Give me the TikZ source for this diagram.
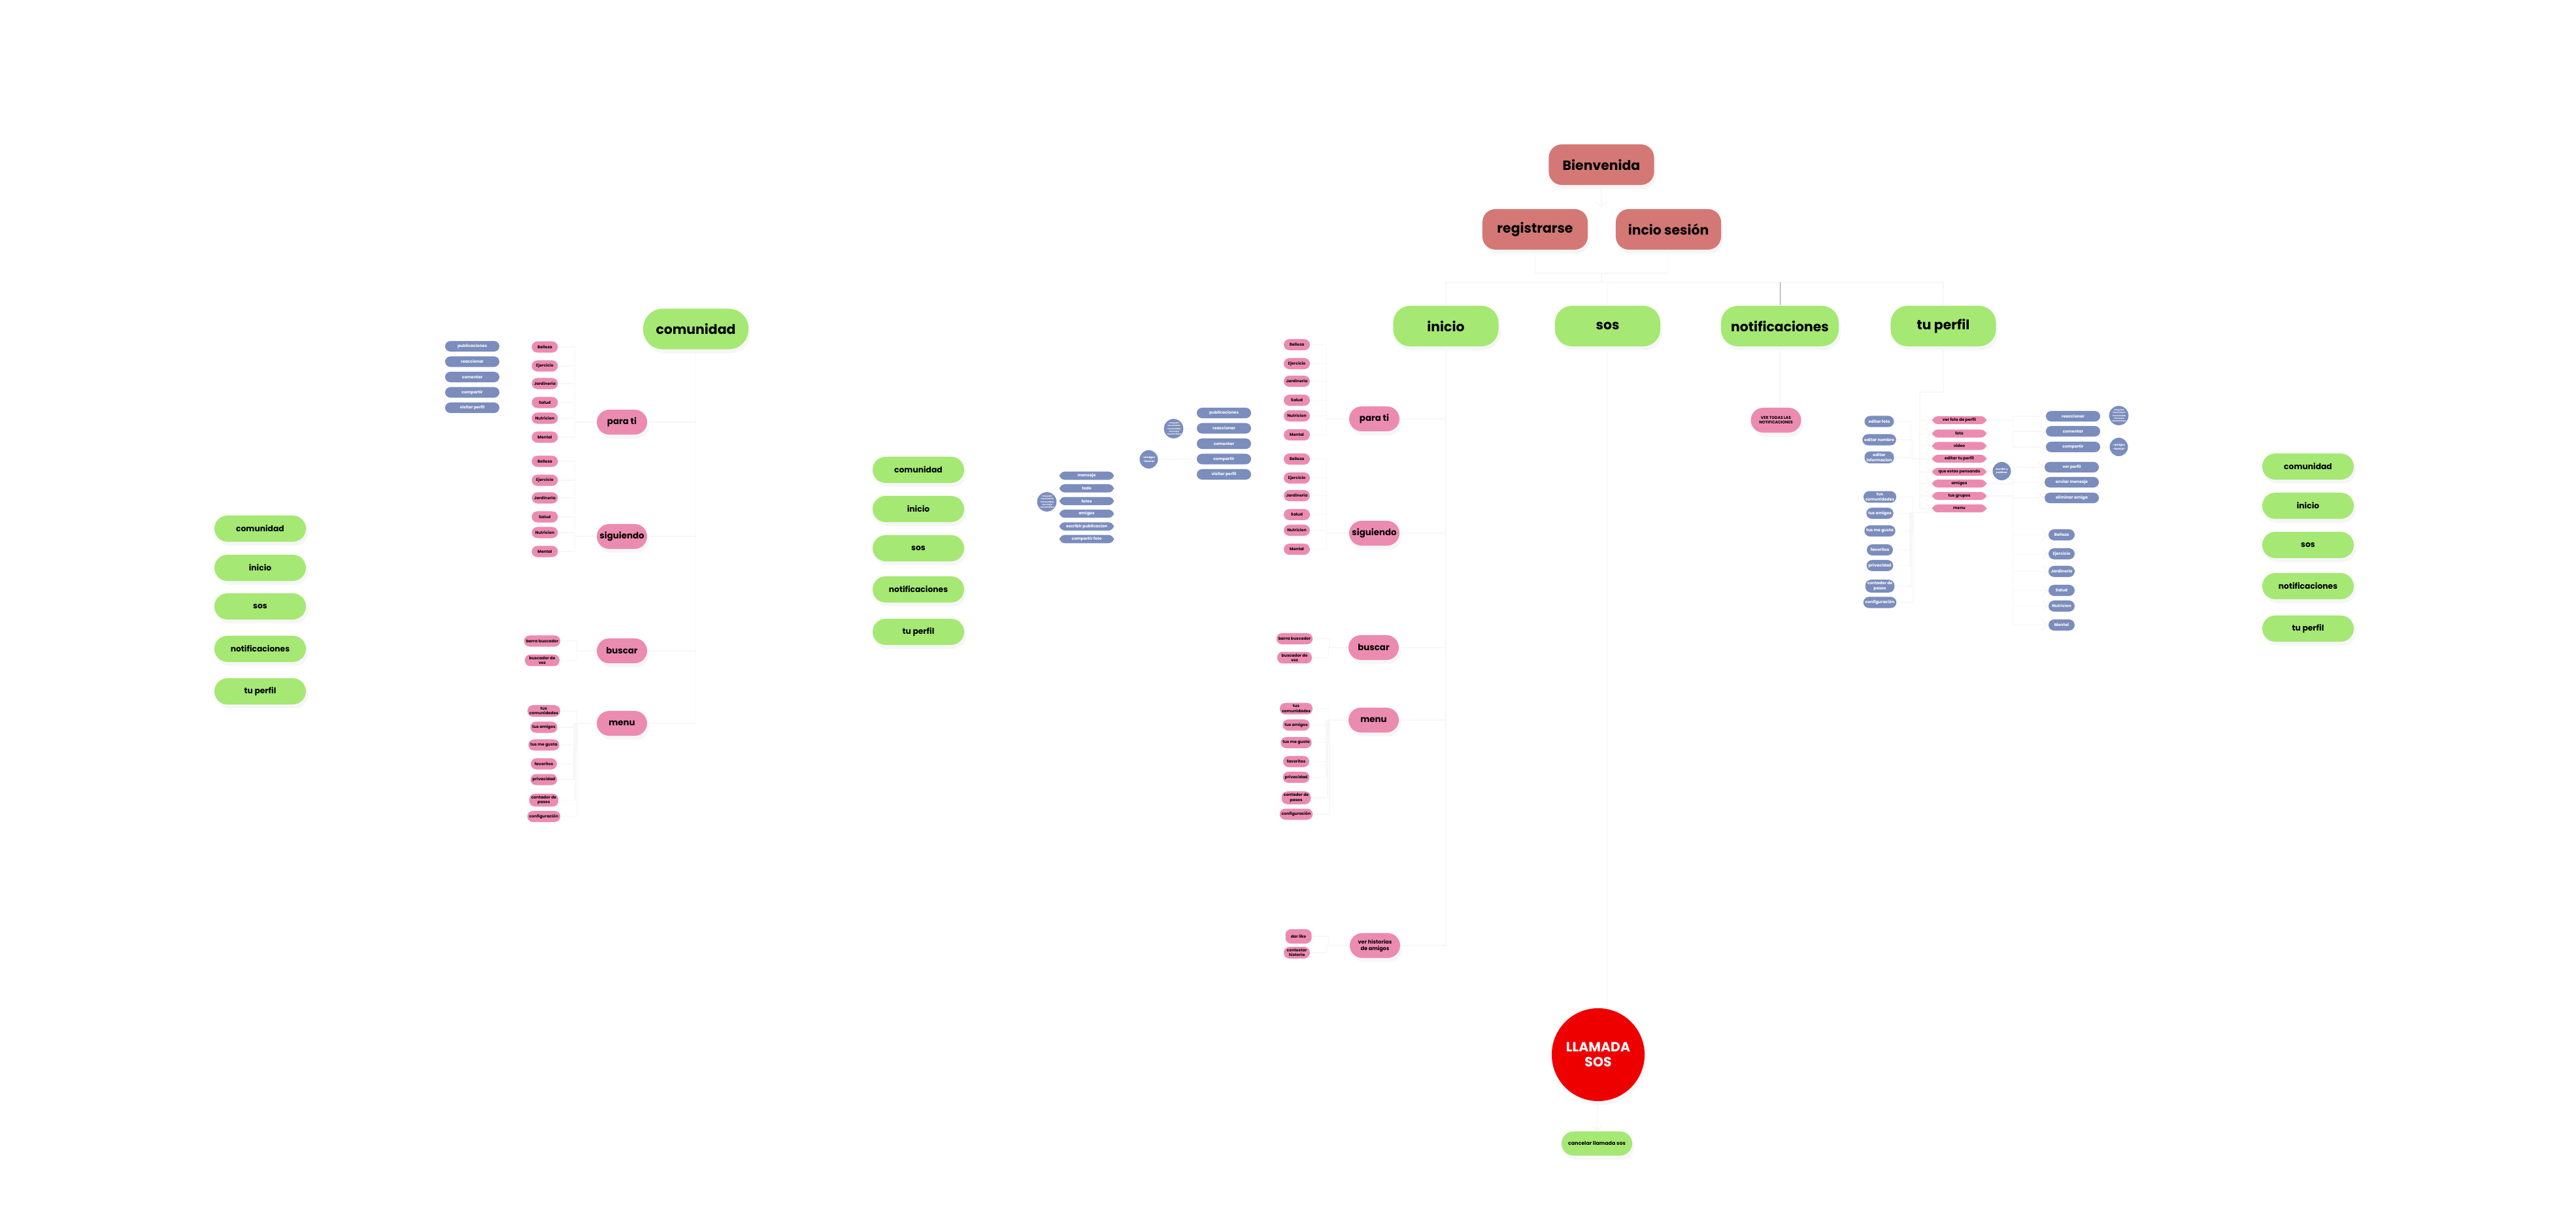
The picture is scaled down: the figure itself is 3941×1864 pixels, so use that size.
\documentclass[tikz,border=0pt]{standalone}
\usepackage{fontspec}
\setmainfont{Poppins}
\usetikzlibrary{shadows,arrows.meta}

\definecolor{rosa}{HTML}{D47876}
\definecolor{verde}{HTML}{A5E873}
\definecolor{chicle}{HTML}{EC8BB0}
\definecolor{azul}{HTML}{7B8DBD}
\definecolor{alarma}{HTML}{EE0000}
\newcommand{\letra}[2]{\fontsize{#1}{#2}\selectfont\bfseries}

\begin{document}
\begin{tikzpicture}[x=0.01cm,y=-0.01cm]
\tikzstyle{every node}=[inner sep=0pt,align=center];
\tikzstyle{sombra}=[drop shadow={opacity=0.07,shadow xshift=0.3mm,shadow yshift=-0.6mm}];
\tikzstyle{linkline}=[draw=black!3,line width=0.4pt];
\tikzstyle{punta}=[-{Straight Barb[length=0.8mm,width=1.6mm]}];
\tikzstyle{welcome}=[sombra,fill=rosa,minimum width=16.1mm,minimum height=6.2mm,rounded corners=2mm,font=\letra{5.8}{7}];
\tikzstyle{tabbox}=[sombra,fill=verde,minimum width=16.1mm,minimum height=6.2mm,rounded corners=2.6mm,font=\letra{5.8}{7}];
\tikzstyle{tabsm}=[sombra,fill=verde,minimum width=14mm,minimum height=4mm,rounded corners=2mm,font=\letra{3.5}{4}];
\tikzstyle{subbox}=[sombra,fill=chicle,minimum width=7.7mm,minimum height=3.8mm,rounded corners=1.9mm,font=\letra{3.8}{4.4}];
\tikzstyle{leafbox}=[fill=chicle,minimum width=4mm,minimum height=1.7mm,inner xsep=0.3mm,inner ysep=0.3mm,rounded corners=0.85mm,font=\letra{1.75}{2.1}];
\tikzstyle{optbox}=[fill=azul,text=white,minimum width=8.3mm,minimum height=1.6mm,rounded corners=0.8mm,font=\letra{1.75}{2.1}];
\tikzstyle{optleaf}=[leafbox,fill=azul,text=white];
\tikzstyle{reactbox}=[circle,fill=azul,text=white,minimum size=2.8mm,font=\letra{0.85}{1.2}];

\useasboundingbox (0,0) rectangle (3941,1864);

% arriba
\node[welcome] (bien) at (2450,252) {Bienvenida};
\node[welcome] (reg) at (2348.5,351) {registrarse};
\node[welcome] (ses) at (2552.5,351) {incio sesión};
\node[tabbox] (tinicio) at (2212,499) {inicio};
\node[tabbox] (tsos) at (2459.5,499) {sos};
\node[tabbox,minimum width=18mm] (tnotif) at (2723,499) {notificaciones};
\node[tabbox] (tperfil) at (2973,499) {tu perfil};
\coordinate (llega) at (2450,318);
\coordinate (une) at (2450,418);
\coordinate (bus) at (2450,432);
\draw[linkline,punta] (bien) -- (llega);
\draw[linkline] (reg.south) |- (une) -| (ses.south);
\draw[linkline] (une) -- (bus);
\draw[linkline] (tinicio.north) |- (bus) -| (tperfil.north);
\draw[linkline] (tsos.north) -- (tsos.north |- bus);
\draw[draw=black!40,line width=0.3pt] (tnotif.north) -- (tnotif.north |- bus);

% menus verdes
\foreach \t/\y [count=\i] in {comunidad/809,inicio/869,sos/928,notificaciones/993,tu perfil/1058}
  \node[tabsm] (lm\i) at (398,\y) {\t};
\foreach \t/\y [count=\i] in {comunidad/719,inicio/779,sos/839,notificaciones/902,tu perfil/967}
  \node[tabsm] (mm\i) at (1405,\y) {\t};
\foreach \t/\y [count=\i] in {comunidad/714,inicio/774,sos/834,notificaciones/897,tu perfil/962}
  \node[tabsm] (rm\i) at (3531,\y) {\t};

% comunidad
\node[tabbox,minimum width=16.1mm,rounded corners=3mm] (com) at (1064.5,503.5) {comunidad};
\node[subbox] (cpara) at (951.5,646) {para ti};
\node[subbox] (csig) at (951.5,821) {siguiendo};
\node[subbox] (cbus) at (951.5,996) {buscar};
\node[subbox] (cmenu) at (951.5,1107) {menu};
\foreach \n in {cpara,csig,cbus,cmenu}
  \draw[linkline] (com.south) |- (\n.east);
\foreach \t/\dy [count=\i] in {Belleza/0,Ejercicio/29,Jardineria/56,Salud/85,Nutricion/109,Mental/138}{
  \node[leafbox] (cpa\i) at (833.5,{531+\dy}) {\t};
  \node[leafbox] (csi\i) at (833.5,{706+\dy}) {\t};
  \draw[linkline] (cpa\i.east) -- ++(25,0) |- (cpara.west);
  \draw[linkline] (csi\i.east) -- ++(25,0) |- (csig.west);
}
\foreach \t [count=\i] in {publicaciones,reaccionar,comentar,compartir,visitar perfil}
  \node[optbox] (cpu\i) at (722.5,{530+23.5*(\i-1)}) {\t};
\node[leafbox,minimum width=5.3mm] (cbb) at (829.5,981) {barra buscador};
\node[leafbox,minimum width=5.3mm] (cbv) at (829.5,1010.5) {buscador de\\voz};
\foreach \n in {cbb,cbv}
  \draw[linkline] (\n.east) -- ++(25,0) |- (cbus.west);
\foreach \t/\dy [count=\i] in {tus\\comunidades/0,tus amigos/25,tus me gusta/52,favoritos/81,privacidad/105,contador de\\pasos/136.5,configuración/161.5}{
  \node[leafbox] (cme\i) at (832,{1088+\dy}) {\t};
  \draw[linkline] (cme\i.east) -- ++(25,0) |- (cmenu.west);
}

% inicio
\node[subbox] (ipara) at (2102.5,641) {para ti};
\node[subbox] (isig) at (2102.5,816) {siguiendo};
\node[subbox] (ibus) at (2101.5,991) {buscar};
\node[subbox] (imenu) at (2101.5,1102) {menu};
\node[subbox,font=\letra{2.3}{2.8}] (ihist) at (2103.5,1447) {ver historias\\de amigos};
\foreach \n in {ipara,isig,ibus,imenu,ihist}
  \draw[linkline] (tinicio.south) |- (\n.east);
\foreach \t/\dy [count=\i] in {Belleza/0,Ejercicio/29,Jardineria/56,Salud/85,Nutricion/109,Mental/138}{
  \node[leafbox] (ipa\i) at (1984,{527.5+\dy}) {\t};
  \node[leafbox] (isi\i) at (1984,{702.5+\dy}) {\t};
  \draw[linkline] (ipa\i.east) -- ++(25,0) |- (ipara.west);
  \draw[linkline] (isi\i.east) -- ++(25,0) |- (isig.west);
}
\node[leafbox,minimum width=5.3mm] (ibb) at (1980.5,977.5) {barra buscador};
\node[leafbox,minimum width=5.3mm] (ibv) at (1980.5,1006.5) {buscador de\\voz};
\foreach \n in {ibb,ibv}
  \draw[linkline] (\n.east) -- ++(25,0) |- (ibus.west);
\foreach \t/\dy [count=\i] in {tus\\comunidades/0,tus amigos/25,tus me gusta/52,favoritos/81,privacidad/105,contador de\\pasos/136.5,configuración/161.5}{
  \node[leafbox] (ime\i) at (1983,{1084.5+\dy}) {\t};
  \draw[linkline] (ime\i.east) -- ++(25,0) |- (imenu.west);
}
\node[leafbox,minimum height=2.2mm] (ilike) at (1986.5,1433) {dar like};
\node[leafbox] (icont) at (1984,1458) {contestar\\historia};
\foreach \n in {ilike,icont}
  \draw[linkline] (\n.east) -- ++(25,0) |- (ihist.west);

% publicaciones de inicio
\foreach \t [count=\i] in {mensaje,todo,fotos,amigos,escribir publicacion,compartir foto}
  \node[optbox,minimum height=1.25mm] (imsg\i) at (1662.5,{728+19.4*(\i-1)}) {\t};
\foreach \t [count=\i] in {publicaciones,reaccionar,comentar,compartir,visitar perfil}
  \node[optbox] (ipub\i) at (1872.5,{632+23.5*(\i-1)}) {\t};
\node[reactbox] (ir1) at (1601.5,768) {-me gusta\\-me encanta\\-me asombra\\-me enoja\\-me entristece};
\node[reactbox,font=\letra{1.2}{1.6}] (ir2) at (1757.5,703) {-amigos\\-buscar};
\node[reactbox] (ir3) at (1795.5,656) {-me gusta\\-me encanta\\-me asombra\\-me enoja\\-me entristece};
\draw[linkline] (ir3) -- (ipub2);
\draw[linkline] (ir2) -- (ipub4);
\draw[linkline] (ir1) -- (imsg3);

% notificaciones
\node[subbox,font=\letra{1.72}{2.2}] (vertodas) at (2717,643) {VER TODAS LAS\\NOTIFICACIONES};
\draw[linkline] (tnotif.south) -- (tnotif.south |- vertodas.north);

% sos
\node[circle,sombra,fill=alarma,text=white,minimum size=14.2mm,font=\letra{5.8}{6.6}] (llamada) at (2445,1614) {LLAMADA\\SOS};
\node[tabsm,minimum width=10.8mm,minimum height=3.7mm,rounded corners=1.85mm,font=\letra{2.25}{2.6}] (cancel) at (2443,1750) {cancelar llamada sos};
\draw[linkline] (tsos.south) -- (tsos.south |- llamada.north);
\draw[linkline,punta] (llamada) -- (cancel);

% tu perfil
\foreach \t/\y [count=\i] in {editar foto/645,editar nombre/673,editar\\informacion/700}
  \node[optleaf,minimum width=4.5mm] (ped\i) at (2875,\y) {\t};
\foreach \t/\dy [count=\i] in {tus\\comunidades/0,tus amigos/25,tus me gusta/52,favoritos/81,privacidad/105,contador de\\pasos/136.5,configuración/161.5}
  \node[optleaf] (pme\i) at (2876,{760.5+\dy}) {\t};
\foreach \t/\y [count=\i] in {ver foto de perfil/643,foto/663.5,video/682.5,editar tu perfil/702,que estas pensando/722,amigos/740,tus grupos/759,menu/778}
  \node[leafbox,minimum width=8.3mm,minimum height=1.2mm,inner ysep=0pt] (pp\i) at (2997.5,\y) {\t};
\coordinate (espina) at (2937,600);
\draw[linkline] (tperfil.south) |- (espina) -- (espina |- pp8.west);
\foreach \i in {1,...,8}
  \draw[linkline,punta] (espina |- pp\i.west) -- (pp\i.west);
\foreach \i in {1,2,3}
  \draw[linkline] (ped\i.east) -- ++(25,0) |- (pp4.west);
\foreach \i in {1,...,7}
  \draw[linkline] (pme\i.east) -- ++(25,0) |- (pp8.south);
\node[reactbox,font=\letra{1.1}{1.5}] (pesc) at (3062.5,721) {escribir y\\publicar};
\draw[linkline] (pp5) -- (pesc);
\foreach \t/\y [count=\i] in {reaccionar/637,comentar/660,compartir/684}
  \node[optbox] (pre\i) at (3171.5,\y) {\t};
\foreach \t/\y [count=\i] in {ver perfil/715,enviar mensaje/738,eliminar amiga/762}
  \node[optbox] (pam\i) at (3169.5,\y) {\t};
\foreach \i in {1,2,3}{
  \draw[linkline,punta] (pp1.east) -- ++(40,0) |- (pre\i.west);
  \draw[linkline,punta] (pp6.east) -- ++(40,0) |- (pam\i.west);
}
\node[reactbox] (pr1) at (3241.5,636) {-me gusta\\-me encanta\\-me asombra\\-me enoja\\-me entristece};
\node[reactbox,font=\letra{1.2}{1.6}] (pr2) at (3241.5,684) {-amigos\\-buscar};
\draw[linkline] (pre1) -- (pr1);
\draw[linkline] (pre3) -- (pr2);
\foreach \t/\dy [count=\i] in {Belleza/0,Ejercicio/29,Jardineria/56,Salud/85,Nutricion/109,Mental/138}{
  \node[optleaf] (pgr\i) at (3154,{818.5+\dy}) {\t};
  \draw[linkline,punta] (pp7.east) -- ++(40,0) |- (pgr\i.west);
}
\end{tikzpicture}
\end{document}
